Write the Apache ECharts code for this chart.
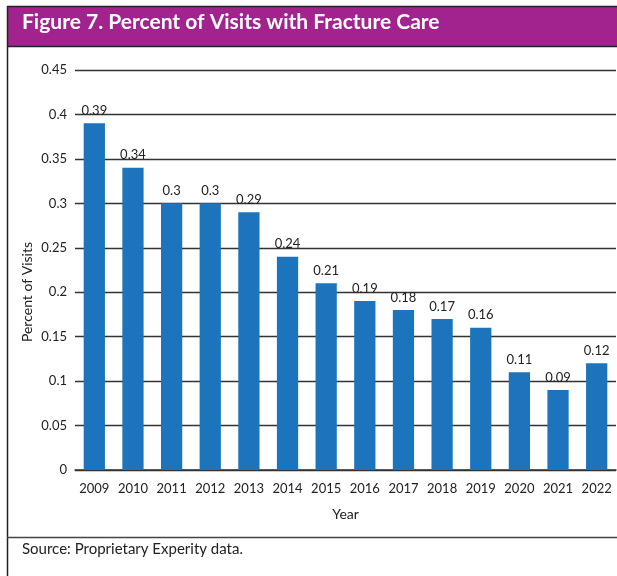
<!DOCTYPE html>
<html>
<head>
<meta charset="utf-8">
<script src="https://cdn.jsdelivr.net/npm/echarts@6/dist/echarts.min.js"></script>
<style>
  html, body { margin: 0; padding: 0; background: #fff; }
  #chart { width: 617px; height: 576px; }
</style>
</head>
<body>
<div id="chart"></div>
<script>
const years = ['2009', '2010', '2011', '2012', '2013', '2014', '2015', '2016', '2017', '2018', '2019', '2020', '2021', '2022'];
const percentVisits = [0.39, 0.34, 0.3, 0.3, 0.29, 0.24, 0.21, 0.19, 0.18, 0.17, 0.16, 0.11, 0.09, 0.12];

const chart = echarts.init(document.getElementById('chart'), null, { renderer: 'canvas' });
const font = 'Lato';

const option = {
  animation: false,
  backgroundColor: '#fff',
  textStyle: { fontFamily: font },
  grid: { left: 75, right: 1, top: 70, bottom: 106 },
  xAxis: {
    type: 'category',
    data: years,
    name: 'Year',
    nameLocation: 'middle',
    nameGap: 37,
    nameTextStyle: { fontSize: 14, color: '#222', fontFamily: font },
    axisLine: { lineStyle: { color: '#333', width: 1.5 } },
    axisTick: { show: false },
    axisLabel: { interval: 0, fontSize: 13, color: '#222', margin: 12, fontFamily: font }
  },
  yAxis: {
    type: 'value',
    min: 0,
    max: 0.45,
    interval: 0.05,
    axisLine: { show: false },
    axisTick: { show: false },
    splitLine: { lineStyle: { color: '#333', width: 1.3 } },
    axisLabel: {
      fontSize: 13, color: '#222', margin: 8, fontFamily: font,
      formatter: v => String(Math.round(v * 100) / 100)
    }
  },
  series: [{
    type: 'bar',
    data: percentVisits,
    barCategoryGap: '45%',
    itemStyle: { color: '#1c75bc' },
    label: {
      show: true,
      position: 'top',
      distance: 6,
      fontSize: 13,
      color: '#222',
      fontFamily: font
    }
  }],
  graphic: [
    { type: 'rect', shape: { x: 7.5, y: 6.5, width: 620, height: 580 }, style: { fill: 'none', stroke: '#222', lineWidth: 1.5 }, z: 10 },
    { type: 'rect', shape: { x: 8, y: 7, width: 612, height: 39 }, style: { fill: '#a3238e', stroke: null }, z: 9 },
    { type: 'line', shape: { x1: 7, y1: 46.5, x2: 617, y2: 46.5 }, style: { stroke: '#222', lineWidth: 1.5 }, z: 10 },
    { type: 'text', left: 22, top: 12, z: 11,
      style: { text: 'Figure 7. Percent of Visits with Fracture Care', fill: '#fff', font: 'bold 21px ' + font } },
    { type: 'text', x: 27, y: 292, rotation: Math.PI / 2, z: 11,
      style: { text: 'Percent of Visits', fill: '#222', font: '14px ' + font, align: 'center', verticalAlign: 'middle' } },
    { type: 'line', shape: { x1: 7, y1: 537.5, x2: 617, y2: 537.5 }, style: { stroke: '#444', lineWidth: 1.5 }, z: 10 },
    { type: 'text', left: 22, top: 542, z: 11,
      style: { text: 'Source: Proprietary Experity data.', fill: '#222', font: '15px ' + font } }
  ]
};

chart.setOption(option);
</script>
</body>
</html>
